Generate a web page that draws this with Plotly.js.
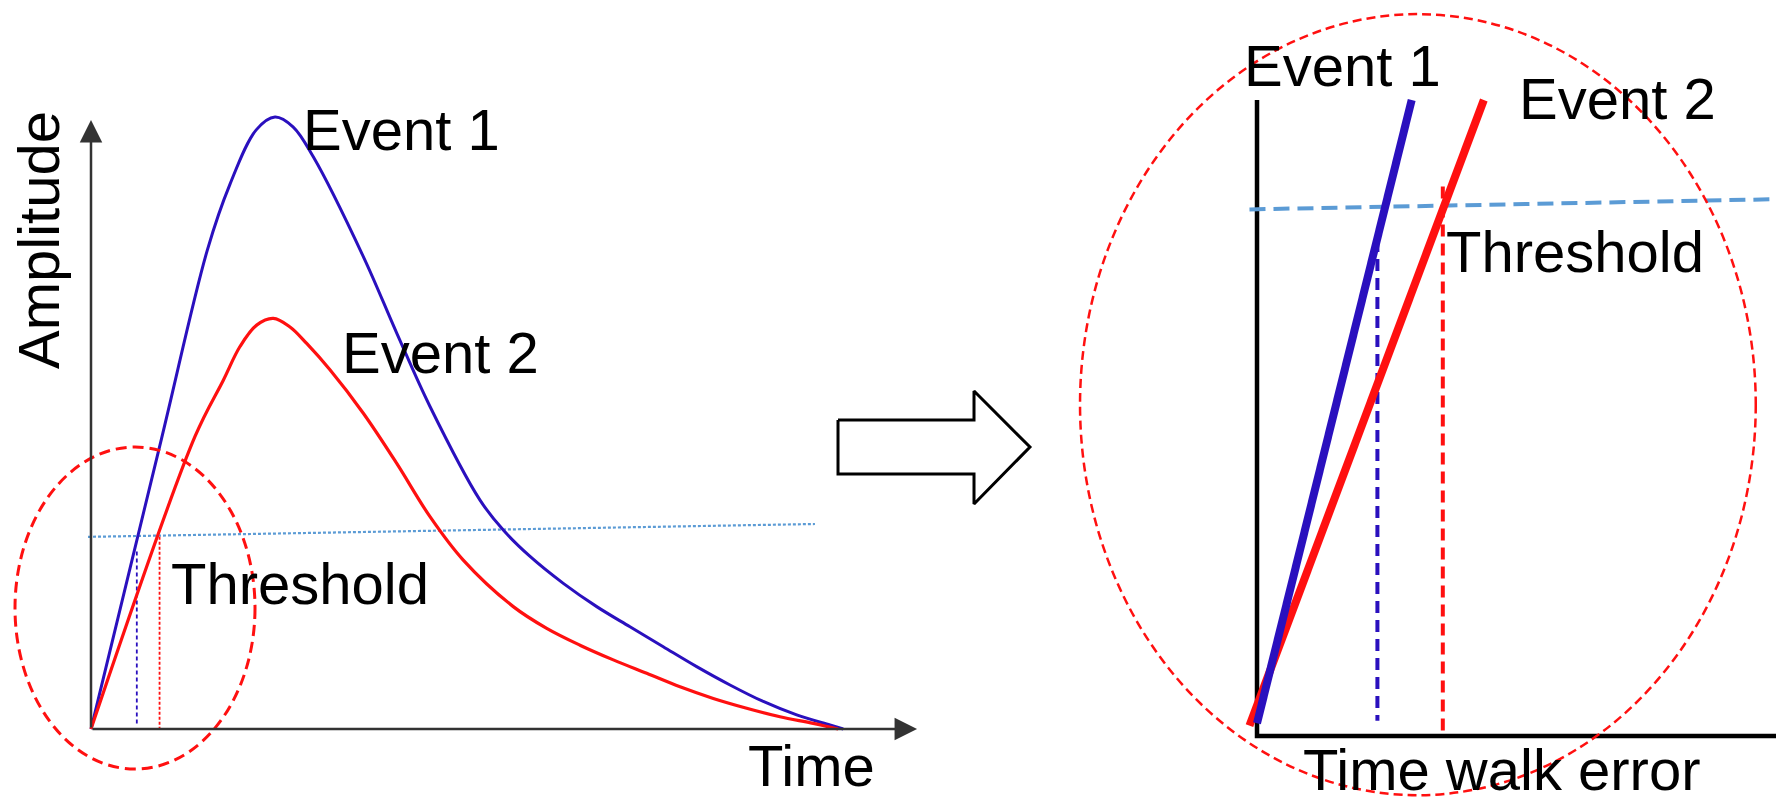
<!DOCTYPE html>
<html>
<head>
<meta charset="utf-8">
<script src="https://cdn.plot.ly/plotly-3.0.1.min.js"></script>
<style>
  html, body { margin: 0; padding: 0; background: #fff; }
  #chart { width: 1776px; height: 801px; }
</style>
</head>
<body>
<div id="chart"></div>
<script>
// Left panel: full pulses (time, amplitude)
var event1Time = [0, 0.94, 1.55, 1.85, 2.2, 2.45, 2.69, 2.96, 3.626, 4.071, 4.514, 5.18, 5.49, 5.846, 6.289, 6.734, 7.177, 7.62, 8.065, 8.509, 8.952, 9.397, 9.84, 10.017];
var event1Amp  = [0, 4.75, 7.83, 8.9, 9.79, 10.0, 9.84, 9.35, 7.72, 6.47, 5.27, 3.74, 3.25, 2.82, 2.38, 2.0, 1.67, 1.345, 1.02, 0.72, 0.45, 0.23, 0.065, 0];
var event2Time = [0, 1.385, 1.762, 1.984, 2.206, 2.427, 2.65, 2.872, 3.182, 3.626, 4.071, 4.514, 4.957, 5.623, 6.068, 6.511, 6.955, 7.4, 7.843, 8.286, 8.731, 9.174, 9.617, 9.95];
var event2Amp  = [0, 4.78, 5.70, 6.25, 6.60, 6.71, 6.57, 6.30, 5.87, 5.16, 4.34, 3.47, 2.76, 2.0, 1.645, 1.37, 1.13, 0.91, 0.69, 0.5, 0.34, 0.2, 0.093, 0];
var thresholdTime = [-0.04, 9.64];
var thresholdAmp  = [3.14, 3.35];
var cross1Time = [0.61, 0.61], cross1Amp = [2.9, 0.05];
var cross2Time = [0.913, 0.913], cross2Amp = [3.14, 0];

// Right panel: zoom on the leading edges (time walk, amplitude)
var zoom1X = [0, 0.298],       zoom1Y = [0.02, 1.0];
var zoom2X = [-0.0145, 0.437], zoom2Y = [0.0164, 1.0];
var zoomThrX = [-0.0145, 1.0], zoomThrY = [0.828, 0.844];
var walk1X = [0.232, 0.232],   walk1Y = [0.78, 0.024];
var walk2X = [0.358, 0.358],   walk2Y = [0.864, 0];
var axisX = [0, 0, 1.0], axisY = [1.0, 0, 0];

// hollow arrow between the panels (left axes units)
var arrowT = [9.947, 11.758, 11.758, 12.503, 11.758, 11.758, 9.947, 9.947];
var arrowA = [5.049, 5.049, 5.523, 4.608, 3.676, 4.167, 4.167, 5.049];

var blue = '#2a10be', red = '#ff1010', lightBlue = '#5b9bd5';
var font = {family: 'Liberation Sans, Arial, sans-serif', size: 58, color: '#000'};

function line(x, y, color, width, dash, xa, ya, shape) {
    return {
        x: x, y: y, xaxis: xa || 'x', yaxis: ya || 'y',
        type: 'scatter', mode: 'lines', hoverinfo: 'skip',
        line: {color: color, width: width, dash: dash || 'solid', shape: shape || 'linear', smoothing: 1.0}
    };
}

var data = [
    line(thresholdTime, thresholdAmp, lightBlue, 2.2, '3px,2px'),
    line(cross1Time, cross1Amp, blue, 1.8, '4px,3px'),
    line(cross2Time, cross2Amp, red, 1.8, '3px,2px'),
    line(event1Time, event1Amp, blue, 3, 'solid', 'x', 'y', 'spline'),
    line(event2Time, event2Amp, red, 3.2, 'solid', 'x', 'y', 'spline'),
    {
        x: arrowT, y: arrowA, type: 'scatter', mode: 'lines', fill: 'toself',
        fillcolor: '#fff', line: {color: '#000', width: 3}, hoverinfo: 'skip'
    },
    line(axisX, axisY, '#000', 4.5, 'solid', 'x2', 'y2'),
    line(zoomThrX, zoomThrY, lightBlue, 4, '16px,8px', 'x2', 'y2'),
    line(walk1X, walk1Y, blue, 4, '12px,7px', 'x2', 'y2'),
    line(walk2X, walk2Y, red, 4, '12px,7px', 'x2', 'y2'),
    line(zoom2X, zoom2Y, red, 8, 'solid', 'x2', 'y2'),
    line(zoom1X, zoom1Y, blue, 8, 'solid', 'x2', 'y2')
];

function label(text, x, y, xref, yref, angle) {
    return {text: text, x: x, y: y, xref: xref, yref: yref, showarrow: false,
            font: font, textangle: angle || 0, xanchor: 'center', yanchor: 'middle'};
}

function axisArrow(x, y, ax, ay) {
    return {text: '', x: x, y: y, ax: ax, ay: ay, xref: 'x', yref: 'y', axref: 'x', ayref: 'y',
            showarrow: true, arrowhead: 2, arrowsize: 1.8, arrowwidth: 2.5, arrowcolor: '#333'};
}

var layout = {
    width: 1776, height: 801,
    margin: {l: 0, r: 0, t: 0, b: 0},
    paper_bgcolor: '#fff', plot_bgcolor: '#fff',
    showlegend: false,
    xaxis:  {domain: [0, 1060 / 1776], range: [-1.2117, 12.903], visible: false, fixedrange: true},
    yaxis:  {domain: [0, 1], range: [-1.176, 11.912], visible: false, fixedrange: true},
    xaxis2: {domain: [1060 / 1776, 1], range: [-0.3796, 1.0], visible: false, anchor: 'y2', fixedrange: true},
    yaxis2: {domain: [0, 1], range: [-0.1022, 1.1572], visible: false, anchor: 'x2', fixedrange: true},
    shapes: [
        {type: 'circle', xref: 'x', yref: 'y', x0: -1.012, x1: 2.184, y0: -0.654, y1: 4.608,
         line: {color: red, width: 3, dash: '11px,6px'}},
        {type: 'circle', xref: 'x2', yref: 'y2', x0: -0.341, x1: 0.961, y0: -0.093, y1: 1.135,
         line: {color: red, width: 2.5, dash: '9px,5px'}}
    ],
    annotations: [
        axisArrow(0, 9.95, 0, 0),
        axisArrow(11.0, 0, 0, 0),
        label('Amplitude', -0.706, 7.99, 'x', 'y', -90),
        label('Event 1', 4.14, 9.79, 'x', 'y'),
        label('Event 2', 4.65, 6.16, 'x', 'y'),
        label('Threshold', 2.78, 2.37, 'x', 'y'),
        label('Time', 9.59, -0.60, 'x', 'y'),
        label('Event 1', 0.164, 1.055, 'x2', 'y2'),
        label('Event 2', 0.694, 1.003, 'x2', 'y2'),
        label('Threshold', 0.613, 0.761, 'x2', 'y2'),
        label('Time walk error', 0.472, -0.053, 'x2', 'y2')
    ]
};

Plotly.newPlot('chart', data, layout, {staticPlot: true, displayModeBar: false});
</script>
</body>
</html>
